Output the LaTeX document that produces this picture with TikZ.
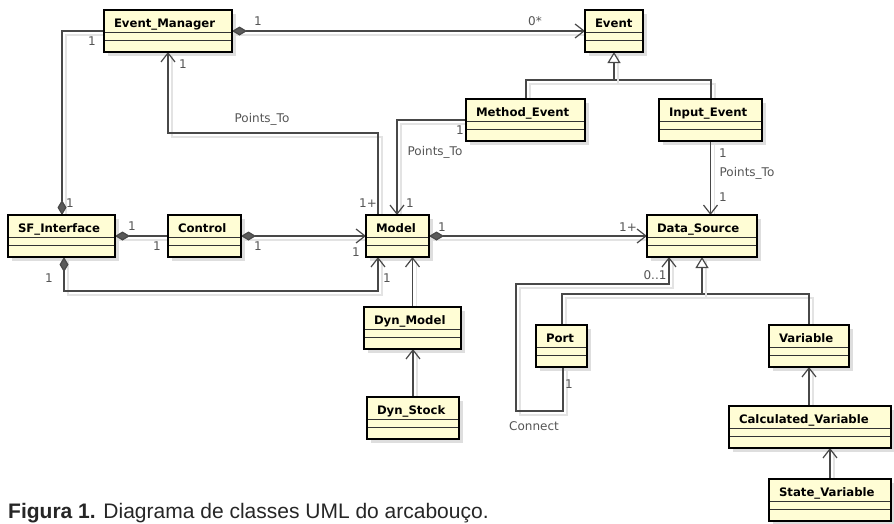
\documentclass[tikz,border=0pt]{standalone}
\usepackage{fontspec}
\setmainfont{DejaVu Sans}
\newfontfamily\capfont{Liberation Sans}
\usetikzlibrary{arrows.meta}
\pgfdeclarelayer{shadowlayer}
\pgfdeclarelayer{bg}
\pgfsetlayers{shadowlayer,bg,main}
\definecolor{uyellow}{RGB}{255,253,213}
\definecolor{lcol}{RGB}{72,72,72}
\definecolor{labcol}{RGB}{85,85,85}
\definecolor{dcol}{RGB}{90,90,90}
\tikzset{
 umlclass/.style={fill=uyellow, inner xsep=10pt, inner ysep=0pt, outer sep=0pt, text height=17pt, text depth=25pt, align=left, font=\bfseries\fontsize{11.7}{13}\selectfont, text=black},
 divider/.style={draw=black!80, line width=0.9pt},
 boxborder/.style={draw=black, line width=1.7pt},
 boxshadow/.style={fill=black!13},
 conn/.style={draw=lcol, line width=1.2pt, preaction={draw=black!11, line width=1.2pt, arrows=-, transform canvas={shift={(4,4)}}}},
 barb/.style={-{Straight Barb[length=9pt,width=14pt]}},
 dia/.style={{Diamond[length=15pt,width=9pt,fill=dcol]}-},
 diabarb/.style={{Diamond[length=15pt,width=9pt,fill=dcol]}-{Straight Barb[length=9pt,width=14pt]}},
 gen/.style={-{Triangle[open,length=11pt,width=13pt,fill=white]}},
 lab/.style={font=\fontsize{12}{14}\selectfont, text=labcol, inner sep=0pt},
}
\newcommand\umlbox[5]{%
  \begin{pgfonlayer}{shadowlayer}
    \fill[boxshadow] (#2+4,#3+4) rectangle (#4+4,#3+46);
  \end{pgfonlayer}
  \node[umlclass, text width={#4-#2-20}, anchor=north west] (#1) at (#2,#3) {#5};
  \draw[divider] (#2,#3+22) -- (#4,#3+22);
  \draw[divider] (#2,#3+30) -- (#4,#3+30);
  \draw[boxborder] (#1.north west) rectangle (#1.south east);
}
\begin{document}
\begin{tikzpicture}[x=1pt, y=-1pt]
\begin{pgfonlayer}{shadowlayer}
  \fill[white] (0,0) rectangle (894,523);
\end{pgfonlayer}
\useasboundingbox (0,0) rectangle (894,523);

\umlbox{EM}{104}{10}{232}{Event\_Manager}
\umlbox{EV}{585}{10}{643}{Event}
\umlbox{ME}{466}{99}{585}{Method\_Event}
\umlbox{IE}{659}{99}{762}{Input\_Event}
\umlbox{SF}{8}{215}{115}{SF\_Interface}
\umlbox{CT}{168}{215}{241}{Control}
\umlbox{MO}{366}{215}{429}{Model}
\umlbox{DS}{647}{215}{757}{Data\_Source}
\umlbox{DM}{364}{307}{461}{Dyn\_Model}
\umlbox{DK}{367}{397}{459}{Dyn\_Stock}
\umlbox{PO}{536}{325}{587}{Port}
\umlbox{VA}{769}{325}{849}{Variable}
\umlbox{CV}{729}{406}{891}{Calculated\_Variable}
\umlbox{SV}{769}{479}{891}{State\_Variable}

\begin{pgfonlayer}{bg}
\draw[conn, diabarb] (EM.east) -- (EV.west);
\draw[conn, dia] (62,0 |- SF.north) -- (62,31) -- (EM.west);
\draw[conn, barb] (378,0 |- MO.north) -- (378,133) -- (168,133) -- (168,0 |- EM.south);
\draw[conn, barb] (ME.west) -- (397,120) -- (397,0 |- MO.north);
\draw[conn] (526,0 |- ME.north) -- (526,80) -- (711,80) -- (711,0 |- IE.north);
\draw[conn, gen] (614,80) -- (EV.south);
\draw[conn, barb] (IE.south) -- (IE.south |- DS.north);
\draw[conn, dia] (SF.east) -- (CT.west);
\draw[conn, diabarb] (CT.east) -- (MO.west);
\draw[conn, diabarb] (64,0 |- SF.south) -- (64,291) -- (378,291) -- (378,0 |- MO.south);
\draw[conn, diabarb] (MO.east) -- (DS.west);
\draw[conn, barb] (DM.north) -- (DM.north |- MO.south);
\draw[conn, barb] (DK.north) -- (DK.north |- DM.south);
\draw[conn, barb] (563,0 |- PO.south) -- (563,411) -- (516,411) -- (516,284) -- (669,284) -- (669,0 |- DS.south);
\draw[conn] (562,0 |- PO.north) -- (562,294) -- (809,294) -- (809,0 |- VA.north);
\draw[conn, gen] (702,294) -- (DS.south);
\draw[conn, barb] (809,0 |- CV.north) -- (VA.south);
\draw[conn, barb] (SV.north) -- (SV.north |- CV.south);
\end{pgfonlayer}

\node[lab] (m1) at (258,21) {1};
\node[lab] (m2) at (535,21) {0*};
\node[lab] (m3) at (92,41) {1};
\node[lab] (m4) at (70,203) {1};
\node[lab] (m5) at (183,64) {1};
\node[lab] (p1) at (262,119) {Points\_To};
\node[lab] (m6) at (368,203) {1+};
\node[lab] (m7) at (460,130) {1};
\node[lab] (p2) at (435,152) {Points\_To};
\node[lab] (m8) at (410,203) {1};
\node[lab] (m9) at (723,153) {1};
\node[lab] (p3) at (747,173) {Points\_To};
\node[lab] (m10) at (723,197) {1};
\node[lab] (m11) at (132,226) {1};
\node[lab] (m12) at (157,246) {1};
\node[lab] (m13) at (258,246) {1};
\node[lab] (m14) at (356,252) {1};
\node[lab] (m15) at (49,278) {1};
\node[lab] (m16) at (387,278) {1};
\node[lab] (m17) at (442,227) {1};
\node[lab] (m18) at (628,227) {1+};
\node[lab] (m19) at (569,384) {1};
\node[lab] (m20) at (655,275) {0..1};
\node[lab] (c1) at (534,426) {Connect};

\node[anchor=base west, inner sep=0pt, font=\capfont\fontsize{21}{24}\selectfont, text=black!85] (cap) at (8,518) {\textbf{Figura 1.} Diagrama de classes UML do arcabouço.};
\end{tikzpicture}
\end{document}
